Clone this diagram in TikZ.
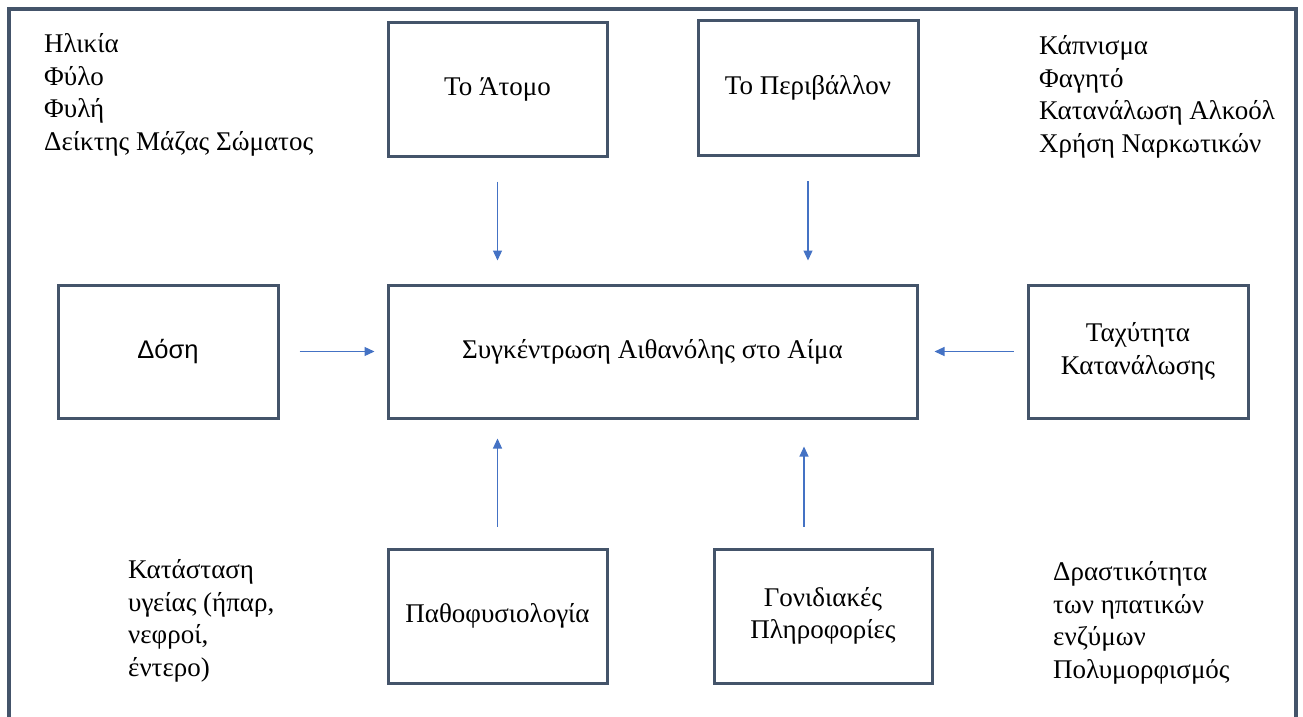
\documentclass[tikz,border=0pt]{standalone}
\usepackage{fontspec}
\setmainfont{Liberation Serif}
\setsansfont{Liberation Sans}
\usetikzlibrary{arrows.meta}
\newcommand{\diagfont}{\fontsize{27}{32.5}\selectfont}
\definecolor{frameslate}{HTML}{44546A}
\definecolor{flowblue}{HTML}{4472C4}

\begin{document}
\begin{tikzpicture}[
    x=1pt, y=-1pt,
    >={Triangle[length=10pt,width=9pt]},
    box/.style={draw=frameslate, line width=3pt, inner sep=0pt, align=center, font=\diagfont},
    flow/.style={->, draw=flowblue, line width=1.2pt},
    list/.style={anchor=base west, align=left, inner sep=0pt, font=\diagfont},
  ]

  \clip (0,0) rectangle (1303,716);

  % outer frame, open at the bottom
  \draw[frameslate, line width=3.5pt] (9,740) -- (9,9) -- (1296,9) -- (1296,740);

  %% ================= the boxes =================
  \node[box, minimum width=219pt, minimum height=134pt] (atomo)      at (497.5,89)  {Το Άτομο};
  \node[box, minimum width=220pt, minimum height=135pt] (perivallon) at (808,88)    {Το Περιβάλλον};
  \node[box, minimum width=220pt, minimum height=133pt, font=\fontsize{25.5}{30}\selectfont\sffamily] (dosi) at (168,351.5) {Δόση};
  \node[box, minimum width=529pt, minimum height=133pt] (conc)       at (652.5,351.5) {Συγκέντρωση Αιθανόλης στο Αίμα};
  \node[box, minimum width=220pt, minimum height=133pt] (taxytita)   at (1138,351.5) {Ταχύτητα\\Κατανάλωσης};
  \node[box, minimum width=219pt, minimum height=134pt] (patho)      at (497.5,616) {Παθοφυσιολογία};
  \node[box, minimum width=218pt, minimum height=134pt] (gonid)      at (823,616)   {Γονιδιακές\\Πληροφορίες};

  %% ================= the free lists =================
  % placed by the baseline of their last line
  \node[list] (factorsperson) at (44,150)   {Ηλικία\\Φύλο\\Φυλή\\Δείκτης Μάζας Σώματος};
  \node[list] (factorsenv)    at (1039,152) {Κάπνισμα\\Φαγητό\\Κατανάλωση Αλκοόλ\\Χρήση Ναρκωτικών};
  \node[list] (factorshealth) at (128,676)  {Κατάσταση\\υγείας (ήπαρ,\\νεφροί,\\έντερο)};
  \node[list] (factorsliver)  at (1053,678) {Δραστικότητα\\των ηπατικών\\ενζύμων\\Πολυμορφισμός};

  %% ================= the arrows =================
  \draw[flow, shorten <=24pt, shorten >=23pt] (atomo.south) -- (atomo.south |- conc.north);
  \draw[flow, shorten <=24pt, shorten >=23pt] (perivallon.south) -- (perivallon.south |- conc.north);
  \draw[flow, shorten <=20pt, shorten >=12pt] (dosi.east) -- (conc.west);
  \draw[flow, shorten <=13pt, shorten >=16pt] (taxytita.west) -- (conc.east);
  \draw[flow, shorten <=21pt, shorten >=19pt] (patho.north) -- (patho.north |- conc.south);
  \draw[flow, shorten <=21pt, shorten >=27pt] ([xshift=-19pt]gonid.north) -- ([xshift=-19pt]gonid.north |- conc.south);

\end{tikzpicture}
\end{document}
